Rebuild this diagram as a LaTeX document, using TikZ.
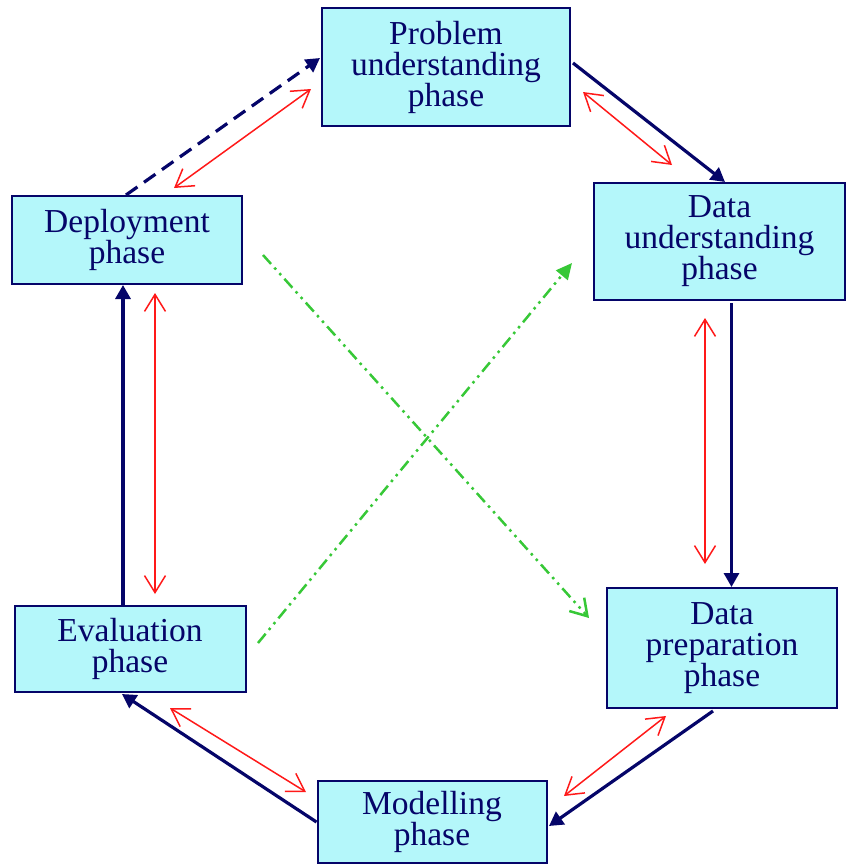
\documentclass[tikz,border=0pt]{standalone}
\usepackage{fontspec}
\setmainfont{Liberation Serif}
\usetikzlibrary{arrows.meta}
\definecolor{boxfill}{RGB}{180,247,250}
\definecolor{navy}{RGB}{5,5,105}
\definecolor{redln}{RGB}{255,25,25}
\definecolor{greenln}{RGB}{55,200,55}
\begin{document}
\begin{tikzpicture}[x=1pt,y=-1pt,
  phasebox/.style={draw=navy, line width=2pt, fill=boxfill, text=navy, align=center,
    inner sep=0pt, font=\fontsize{33.5}{31}\selectfont},
  flow/.style={draw=navy, line width=3.2pt, -{Triangle[length=14pt,width=15pt]}},
  feedback/.style={draw=redln, line width=1.5pt, {Straight Barb[length=17pt,width=21pt]}-{Straight Barb[length=17pt,width=21pt]}},
  crossopen/.style={draw=greenln, line width=2.5pt, dash pattern=on 12pt off 5pt on 2.5pt off 5pt on 2.5pt off 5pt, -{Straight Barb[length=16pt,width=20pt]}},
  crossfill/.style={draw=greenln, line width=2.5pt, dash pattern=on 12pt off 5pt on 2.5pt off 5pt on 2.5pt off 5pt, -{Triangle[length=16pt,width=15pt]}}
]
\useasboundingbox (0,0) rectangle (846,865);
\node[phasebox, minimum width=248pt, minimum height=118pt] (prob) at (446,67) {Problem\\understanding\\phase};
\node[phasebox, minimum width=251pt, minimum height=117pt] (du) at (719.5,241.5) {Data\\understanding\\phase};
\node[phasebox, minimum width=230pt, minimum height=120pt] (dp) at (722,648) {Data\\preparation\\phase};
\node[phasebox, minimum width=229pt, minimum height=82pt] (mod) at (432,822) {Modelling\\phase};
\node[phasebox, minimum width=231pt, minimum height=86pt] (eval) at (130,649) {Evaluation\\phase};
\node[phasebox, minimum width=230pt, minimum height=88pt] (dep) at (127,240) {Deployment\\phase};

% main flow
\draw[flow] ([shift={(2,-4)}]prob.east) -- ([shift={(5.5,0)}]du.north);
\draw[flow] ([shift={(12,2)}]du.south) -- ([shift={(9.5,0)}]dp.north);
\draw[flow] ([shift={(-9,2)}]dp.south) -- ([shift={(1.5,4)}]mod.east);
\draw[flow] (mod.west) -- ([shift={(-8,1)}]eval.south);
\draw[flow] ([shift={(-7,0)}]eval.north) -- ([shift={(-4,0)}]dep.south);
\draw[flow, dash pattern=on 14pt off 8pt] ([shift={(-1,0)}]dep.north) -- ([shift={(-1,-9)}]prob.west);

% feedback
\draw[feedback] ([shift={(12,25)}]prob.east) -- ([shift={(-47.5,-17)}]du.north);
\draw[feedback] ([shift={(-14.5,17)}]du.south) -- ([shift={(-17,-23)}]dp.north);
\draw[feedback] ([shift={(-56,7)}]dp.south) -- ([shift={(16.5,-26)}]mod.east);
\draw[feedback] ([shift={(40,15)}]eval.south) -- ([shift={(-10.5,-30)}]mod.west);
\draw[feedback] ([shift={(28,8)}]dep.south) -- ([shift={(25,-11)}]eval.north);
\draw[feedback] ([shift={(47,-7)}]dep.north) -- ([shift={(-10,22)}]prob.west);

% crossing
\draw[crossopen] ([shift={(20,15)}]dep.east) -- ([shift={(-17,-30)}]dp.west);
\draw[crossfill] ([shift={(11.5,-6)}]eval.east) -- ([shift={(-21,21.5)}]du.west);
\end{tikzpicture}
\end{document}
